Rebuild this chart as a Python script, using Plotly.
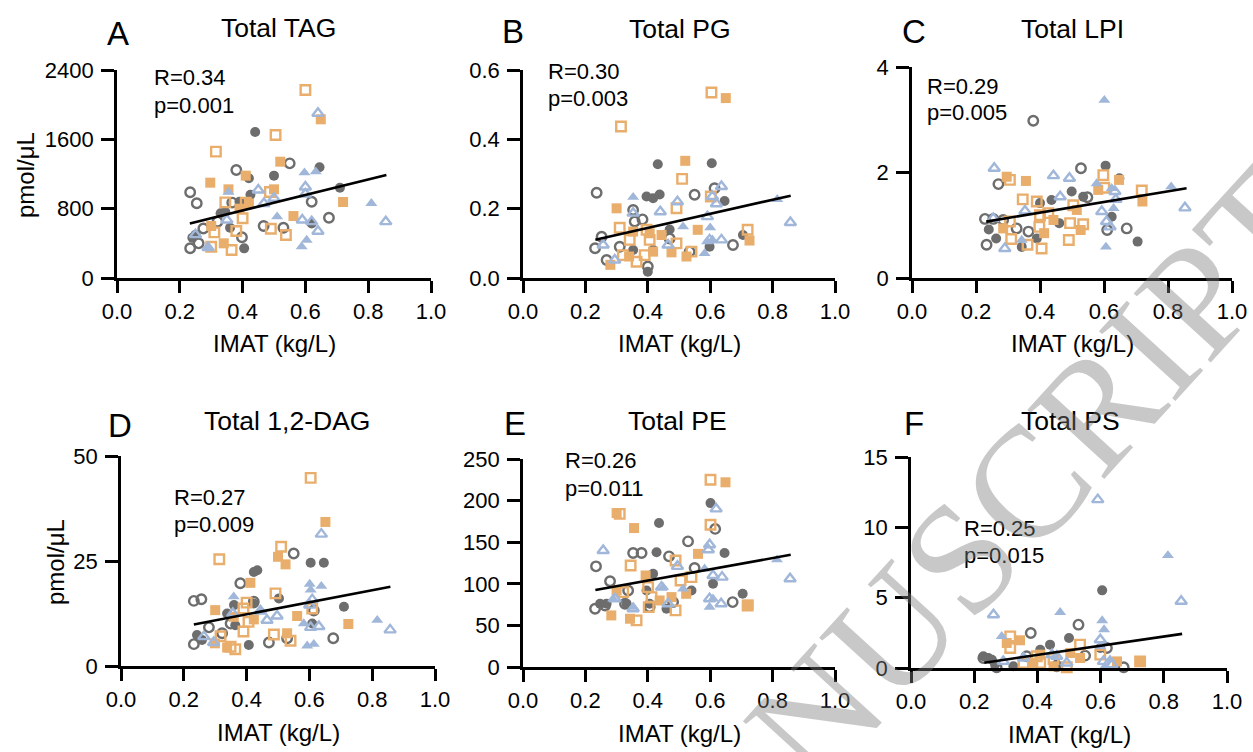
import plotly.graph_objects as go

W, H = 1253, 752

# ---------------------------------------------------------------------------
# Data: (IMAT kg/L, concentration) pairs for each group in each lipid class
# Groups: gray filled circle, gray open circle, orange filled square,
#         orange open square, blue filled triangle, blue open triangle
# ---------------------------------------------------------------------------
TAG_GRAY_FILLED = [(0.44, 1685), (0.71, 1042), (0.645, 1277), (0.50, 1181), (0.42, 1150), (0.405, 342),
                   (0.24, 465), (0.33, 747), (0.345, 760), (0.425, 960), (0.36, 580), (0.62, 629),
                   (0.39, 880), (0.25, 500)]
TAG_GRAY_OPEN = [(0.233, 989), (0.254, 862), (0.38, 1246), (0.55, 1323), (0.62, 880), (0.675, 696),
                 (0.467, 600), (0.53, 580), (0.398, 470), (0.233, 343), (0.275, 571), (0.32, 650),
                 (0.367, 870), (0.26, 400)]
TAG_ORANGE_FILLED = [(0.649, 1831), (0.52, 1342), (0.297, 1100), (0.41, 1181), (0.72, 877), (0.562, 715),
                     (0.355, 1023), (0.50, 1023), (0.42, 860), (0.34, 400), (0.30, 600), (0.39, 800)]
TAG_ORANGE_OPEN = [(0.60, 2169), (0.505, 1650), (0.315, 1458), (0.487, 992), (0.345, 873), (0.41, 870),
                   (0.40, 689), (0.38, 542), (0.31, 527), (0.365, 323), (0.49, 569), (0.538, 496),
                   (0.30, 360)]
TAG_BLUE_FILLED = [(0.81, 862), (0.633, 1227), (0.597, 1215), (0.51, 708), (0.588, 361), (0.604, 438),
                   (0.355, 992), (0.29, 350)]
TAG_BLUE_OPEN = [(0.64, 1900), (0.856, 650), (0.45, 1015), (0.50, 920), (0.468, 860), (0.60, 1050),
                 (0.60, 970), (0.59, 669), (0.62, 650), (0.64, 540), (0.35, 670), (0.25, 500), (0.29, 350)]

PG_GRAY_FILLED = [(0.432, 0.328), (0.605, 0.331), (0.396, 0.235), (0.417, 0.230), (0.438, 0.241),
                  (0.646, 0.222), (0.47, 0.14), (0.353, 0.081), (0.40, 0.018), (0.417, 0.081),
                  (0.598, 0.09), (0.705, 0.124)]
PG_GRAY_OPEN = [(0.236, 0.246), (0.614, 0.259), (0.55, 0.24), (0.383, 0.169), (0.358, 0.163),
                (0.353, 0.196), (0.252, 0.119), (0.231, 0.086), (0.268, 0.052), (0.40, 0.033),
                (0.673, 0.095), (0.534, 0.076), (0.47, 0.114), (0.31, 0.09)]
PG_ORANGE_FILLED = [(0.65, 0.519), (0.52, 0.338), (0.30, 0.201), (0.56, 0.139), (0.726, 0.108),
                    (0.353, 0.134), (0.417, 0.076), (0.476, 0.074), (0.524, 0.062), (0.444, 0.124),
                    (0.28, 0.038), (0.34, 0.062), (0.406, 0.129)]
PG_ORANGE_OPEN = [(0.604, 0.535), (0.314, 0.437), (0.51, 0.286), (0.492, 0.201), (0.602, 0.235),
                  (0.31, 0.145), (0.342, 0.11), (0.396, 0.139), (0.406, 0.11), (0.39, 0.066),
                  (0.364, 0.047), (0.492, 0.10), (0.54, 0.076), (0.72, 0.139), (0.32, 0.066)]
PG_BLUE_FILLED = [(0.815, 0.227), (0.353, 0.233), (0.513, 0.148), (0.60, 0.145), (0.582, 0.071),
                  (0.607, 0.11), (0.59, 0.105)]
PG_BLUE_OPEN = [(0.857, 0.16), (0.636, 0.264), (0.607, 0.235), (0.62, 0.214), (0.495, 0.22),
                (0.44, 0.191), (0.353, 0.187), (0.591, 0.177), (0.636, 0.11), (0.598, 0.11),
                (0.257, 0.095), (0.294, 0.052), (0.465, 0.095)]

LPI_GRAY_FILLED = [(0.605, 2.13), (0.499, 1.64), (0.705, 0.69), (0.263, 0.75), (0.24, 0.92), (0.436, 1.48),
                   (0.40, 1.42), (0.648, 1.89), (0.624, 1.16), (0.343, 0.59), (0.39, 0.75), (0.46, 1.04),
                   (0.535, 1.54)]
LPI_GRAY_OPEN = [(0.379, 2.98), (0.528, 2.08), (0.27, 1.78), (0.228, 1.12), (0.254, 1.12), (0.233, 0.63),
                 (0.327, 0.94), (0.364, 0.88), (0.548, 1.53), (0.671, 0.94), (0.61, 0.91), (0.285, 1.10)]
LPI_ORANGE_FILLED = [(0.356, 1.84), (0.296, 1.92), (0.647, 1.86), (0.72, 1.45), (0.442, 1.10), (0.285, 0.94),
                     (0.527, 0.91), (0.515, 1.29), (0.582, 1.67), (0.413, 0.85)]
LPI_ORANGE_OPEN = [(0.598, 1.95), (0.601, 1.71), (0.718, 1.66), (0.306, 1.86), (0.346, 1.49), (0.39, 1.45),
                   (0.40, 1.19), (0.426, 1.23), (0.398, 0.97), (0.494, 1.04), (0.535, 1.02), (0.49, 0.72),
                   (0.405, 0.56), (0.361, 0.63), (0.31, 0.74), (0.306, 1.07), (0.504, 1.38)]
LPI_BLUE_FILLED = [(0.601, 3.37), (0.81, 1.73), (0.606, 0.59), (0.624, 1.70), (0.577, 1.79), (0.63, 1.32),
                   (0.343, 0.72)]
LPI_BLUE_OPEN = [(0.257, 2.08), (0.442, 1.94), (0.492, 1.89), (0.853, 1.33), (0.463, 1.54), (0.593, 1.26),
                 (0.608, 1.07), (0.619, 0.97), (0.637, 1.49), (0.634, 1.64), (0.353, 1.27), (0.29, 0.56),
                 (0.254, 1.13)]

DAG_GRAY_FILLED = [(0.434, 22.8), (0.423, 22.4), (0.604, 24.6), (0.646, 24.6), (0.71, 14.1), (0.503, 16.1),
                   (0.36, 14.5), (0.407, 5.0), (0.242, 7.4), (0.364, 9.7), (0.609, 10.1), (0.258, 6.2),
                   (0.423, 14.9), (0.338, 12.5)]
DAG_GRAY_OPEN = [(0.55, 26.8), (0.38, 19.7), (0.232, 15.5), (0.256, 15.9), (0.28, 9.2), (0.322, 7.8),
                 (0.232, 5.2), (0.471, 5.6), (0.529, 6.6), (0.676, 6.6), (0.614, 13.2), (0.423, 15.3),
                 (0.349, 10.1)]
DAG_ORANGE_FILLED = [(0.651, 34.3), (0.50, 26.0), (0.524, 24.2), (0.412, 19.8), (0.30, 13.3), (0.724, 10.0),
                     (0.561, 11.9), (0.529, 7.8), (0.423, 11.1), (0.338, 4.4), (0.359, 11.7), (0.299, 5.4)]
DAG_ORANGE_OPEN = [(0.604, 44.8), (0.51, 28.4), (0.313, 25.4), (0.492, 17.3), (0.40, 15.1), (0.39, 13.7),
                   (0.406, 10.5), (0.39, 8.2), (0.317, 7.1), (0.364, 4.0), (0.487, 7.5), (0.54, 6.0),
                   (0.609, 13.7), (0.349, 4.6)]
DAG_BLUE_FILLED = [(0.816, 10.9), (0.601, 19.5), (0.638, 19.0), (0.604, 18.1), (0.593, 4.8), (0.614, 5.2),
                   (0.359, 16.5), (0.444, 13.3), (0.582, 10.1)]
DAG_BLUE_OPEN = [(0.638, 31.4), (0.857, 8.6), (0.601, 14.5), (0.609, 15.8), (0.63, 9.4), (0.604, 9.2),
                 (0.444, 13.1), (0.465, 10.9), (0.497, 11.9), (0.356, 12.5), (0.264, 7.0), (0.295, 5.6)]

PE_GRAY_FILLED = [(0.601, 197), (0.436, 173), (0.646, 137), (0.428, 138), (0.609, 100), (0.704, 88),
                  (0.417, 112), (0.247, 76), (0.268, 76), (0.332, 76), (0.396, 92), (0.406, 76),
                  (0.54, 92), (0.46, 70)]
PE_GRAY_OPEN = [(0.234, 121), (0.279, 103), (0.231, 70), (0.353, 137), (0.38, 137), (0.468, 133),
                (0.529, 151), (0.616, 166), (0.55, 119), (0.672, 78), (0.327, 76), (0.337, 92),
                (0.406, 72), (0.481, 78), (0.263, 74)]
PE_ORANGE_FILLED = [(0.649, 222), (0.30, 185), (0.356, 167), (0.561, 136), (0.523, 88), (0.283, 62),
                    (0.343, 58), (0.393, 110), (0.476, 84), (0.723, 75), (0.30, 92), (0.438, 80)]
PE_ORANGE_OPEN = [(0.601, 225), (0.31, 184), (0.601, 171), (0.345, 122), (0.489, 128), (0.505, 104),
                  (0.54, 108), (0.401, 96), (0.412, 84), (0.403, 72), (0.489, 68), (0.364, 56),
                  (0.72, 74), (0.321, 90)]
PE_BLUE_FILLED = [(0.814, 129), (0.582, 118), (0.513, 94), (0.598, 72), (0.609, 82), (0.449, 96),
                  (0.353, 72), (0.289, 82)]
PE_BLUE_OPEN = [(0.619, 190), (0.856, 106), (0.594, 141), (0.598, 147), (0.495, 121), (0.638, 108),
                (0.609, 110), (0.598, 82), (0.635, 76), (0.444, 96), (0.465, 76), (0.257, 140),
                (0.295, 82), (0.353, 70)]

PS_GRAY_FILLED = [(0.605, 5.52), (0.50, 2.13), (0.44, 1.66), (0.229, 0.83), (0.245, 0.71), (0.256, 0.59),
                  (0.324, 0.12), (0.409, 1.30), (0.599, 1.42), (0.461, 0.24), (0.266, 0.24)]
PS_GRAY_OPEN = [(0.53, 3.08), (0.379, 2.49), (0.551, 0.88), (0.673, 0.05), (0.62, 1.42), (0.271, 0.05),
                (0.229, 0.71), (0.366, 0.83), (0.461, 0.12)]
PS_ORANGE_FILLED = [(0.345, 1.97), (0.303, 1.78), (0.504, 1.07), (0.409, 0.95), (0.387, 0.36), (0.652, 0.47),
                    (0.725, 0.47), (0.535, 0.71), (0.451, 0.12)]
PS_ORANGE_OPEN = [(0.314, 2.25), (0.314, 1.42), (0.535, 1.66), (0.599, 0.95), (0.493, 0.05), (0.725, 0.47),
                  (0.409, 0.36), (0.398, 0.83), (0.451, 0.64), (0.356, 0.36)]
PS_BLUE_FILLED = [(0.813, 8.0), (0.472, 3.96), (0.605, 3.37), (0.611, 2.73), (0.287, 2.25), (0.599, 1.54),
                  (0.63, 0.59), (0.614, 0.12)]
PS_BLUE_OPEN = [(0.591, 11.97), (0.855, 4.74), (0.261, 3.79), (0.599, 2.01), (0.446, 0.95), (0.461, 0.83),
                (0.493, 0.36), (0.292, 0.47), (0.356, 0.71), (0.609, 0.47), (0.636, 0.24)]

# Linear fits (value = intercept + slope * IMAT) drawn across the IMAT range
FIT_X = [0.232, 0.858]
FIT_SLOPE = [891.2, 0.2034, 1.013, 14.35, 67.7, 3.27]
FIT_INTERCEPT = [423.3, 0.063, 0.834, 6.57, 76.8, -0.38]

PANEL_LETTERS = ["A", "B", "C", "D", "E", "F"]
PANEL_TITLES = ["Total TAG", "Total PG", "Total LPI", "Total 1,2-DAG", "Total PE", "Total PS"]
R_LABELS = ["R=0.34", "R=0.30", "R=0.29", "R=0.27", "R=0.26", "R=0.25"]
P_LABELS = ["p=0.001", "p=0.003", "p=0.005", "p=0.009", "p=0.011", "p=0.015"]
Y_MAX = [2400, 0.6, 4, 50, 250, 15]
Y_DTICK = [800, 0.2, 2, 25, 50, 5]
Y_FORMAT = ["d", ".1f", "d", "d", "d", "d"]
X_TICKS = [0.0, 0.2, 0.4, 0.6, 0.8, 1.0]

PANEL_DATA = [
    [TAG_GRAY_FILLED, TAG_GRAY_OPEN, TAG_ORANGE_FILLED, TAG_ORANGE_OPEN, TAG_BLUE_FILLED, TAG_BLUE_OPEN],
    [PG_GRAY_FILLED, PG_GRAY_OPEN, PG_ORANGE_FILLED, PG_ORANGE_OPEN, PG_BLUE_FILLED, PG_BLUE_OPEN],
    [LPI_GRAY_FILLED, LPI_GRAY_OPEN, LPI_ORANGE_FILLED, LPI_ORANGE_OPEN, LPI_BLUE_FILLED, LPI_BLUE_OPEN],
    [DAG_GRAY_FILLED, DAG_GRAY_OPEN, DAG_ORANGE_FILLED, DAG_ORANGE_OPEN, DAG_BLUE_FILLED, DAG_BLUE_OPEN],
    [PE_GRAY_FILLED, PE_GRAY_OPEN, PE_ORANGE_FILLED, PE_ORANGE_OPEN, PE_BLUE_FILLED, PE_BLUE_OPEN],
    [PS_GRAY_FILLED, PS_GRAY_OPEN, PS_ORANGE_FILLED, PS_ORANGE_OPEN, PS_BLUE_FILLED, PS_BLUE_OPEN],
]

# ---------------------------------------------------------------------------
# Styling
# ---------------------------------------------------------------------------
GRAY = "#6d6d6d"
ORANGE = "#E9AE6C"
BLUE = "#A1B7DA"
GROUP_STYLES = [
    dict(symbol="circle", color=GRAY, size=10, open=False),
    dict(symbol="circle-open", color=GRAY, size=9.5, open=True),
    dict(symbol="square", color=ORANGE, size=10, open=False),
    dict(symbol="square-open", color=ORANGE, size=9.5, open=True),
    dict(symbol="triangle-up", color=BLUE, size=10.5, open=False),
    dict(symbol="triangle-up-open", color=BLUE, size=10, open=True),
]
FONT = "Liberation Sans, Arial, Helvetica, sans-serif"

# Plot-area boxes in pixels: (left, top, right, bottom)
BOXES = [
    (117, 70, 431, 278),
    (523, 70, 835, 278),
    (912, 67, 1232, 278),
    (121, 456, 435, 666),
    (523, 459, 835, 667),
    (911, 457, 1227, 668),
]


def px(x):
    return x / W


def py(y):
    return 1 - y / H


fig = go.Figure()
annotations = []
layout_axes = {}

for i in range(6):
    n = "" if i == 0 else str(i + 1)
    xref, yref = "x" + n, "y" + n
    left, top, right, bottom = BOXES[i]

    for pts, st in zip(PANEL_DATA[i], GROUP_STYLES):
        marker = dict(symbol=st["symbol"], size=st["size"], color=st["color"])
        if st["open"]:
            marker["line"] = dict(color=st["color"], width=2.4)
        else:
            marker["line"] = dict(width=0)
        fig.add_trace(go.Scatter(
            x=[p[0] for p in pts], y=[p[1] for p in pts], mode="markers",
            marker=marker, xaxis=xref, yaxis=yref, showlegend=False,
            cliponaxis=False, hoverinfo="x+y"))

    fig.add_trace(go.Scatter(
        x=FIT_X, y=[FIT_INTERCEPT[i] + FIT_SLOPE[i] * xv for xv in FIT_X],
        mode="lines", line=dict(color="black", width=2.6),
        xaxis=xref, yaxis=yref, showlegend=False, cliponaxis=False))

    axis_common = dict(
        showline=True, linecolor="black", linewidth=2.6, ticks="outside",
        ticklen=12, tickwidth=2.6, tickcolor="black", showgrid=False,
        zeroline=False, automargin=False,
        tickfont=dict(family=FONT, size=22, color="black"),
    )
    layout_axes["xaxis" + n] = dict(
        axis_common, domain=[px(left), px(right)], range=[0, 1],
        tickvals=X_TICKS, tickformat=".1f", anchor=yref)
    layout_axes["yaxis" + n] = dict(
        axis_common, domain=[py(bottom), py(top)], range=[0, Y_MAX[i]],
        tick0=0, dtick=Y_DTICK[i], tickformat=Y_FORMAT[i], anchor=xref,
        ticklen=13, ticklabelstandoff=3)

    cx = (left + right) / 2
    # x-axis title
    annotations.append(dict(
        text="IMAT (kg/L)", x=px(cx), y=py(bottom + 66), xref="paper", yref="paper",
        xanchor="center", yanchor="middle", showarrow=False,
        font=dict(family=FONT, size=24, color="black")))

# panel letters, titles, statistics
LETTER_POS = [(118, 33), (513, 32), (914, 32), (120, 425), (515, 423), (914, 423)]
TITLE_POS = [(278, 28), (680, 29), (1072, 29), (287, 421), (677, 421), (1070, 421)]
STAT_POS = [(152, 78), (546, 71), (925, 86), (172, 497), (563, 461), (962, 528)]

for i in range(6):
    lx, ly = LETTER_POS[i]
    annotations.append(dict(
        text=PANEL_LETTERS[i], x=px(lx), y=py(ly), xref="paper", yref="paper",
        xanchor="center", yanchor="middle", showarrow=False,
        font=dict(family=FONT, size=33, color="black")))
    tx, ty = TITLE_POS[i]
    annotations.append(dict(
        text=PANEL_TITLES[i], x=px(tx), y=py(ty), xref="paper", yref="paper",
        xanchor="center", yanchor="middle", showarrow=False,
        font=dict(family=FONT, size=26.5, color="black")))
    sx, sy = STAT_POS[i]
    annotations.append(dict(
        text=R_LABELS[i], x=px(sx), y=py(sy), xref="paper", yref="paper",
        xanchor="left", yanchor="middle", showarrow=False,
        font=dict(family=FONT, size=22, color="black")))
    annotations.append(dict(
        text=P_LABELS[i], x=px(sx), y=py(sy + 27), xref="paper", yref="paper",
        xanchor="left", yanchor="middle", showarrow=False,
        font=dict(family=FONT, size=22, color="black")))

# y-axis titles on the left column
for (yx, yy) in [(25, 175), (55, 562)]:
    annotations.append(dict(
        text="pmol/μL", x=px(yx), y=py(yy), xref="paper", yref="paper",
        xanchor="center", yanchor="middle", textangle=-90, showarrow=False,
        font=dict(family=FONT, size=24, color="black")))

# diagonal watermark
annotations.append(dict(
    text="MANUSCRIPT", x=px(948), y=py(570), xref="paper", yref="paper",
    xanchor="center", yanchor="middle", textangle=-47.6, showarrow=False,
    font=dict(family="Liberation Serif, Times New Roman, serif", size=158,
              color="rgba(125,125,125,0.42)")))

fig.update_layout(
    width=W, height=H, margin=dict(l=0, r=0, t=0, b=0),
    paper_bgcolor="white", plot_bgcolor="white",
    annotations=annotations, **layout_axes)

fig.write_html("out.html")
